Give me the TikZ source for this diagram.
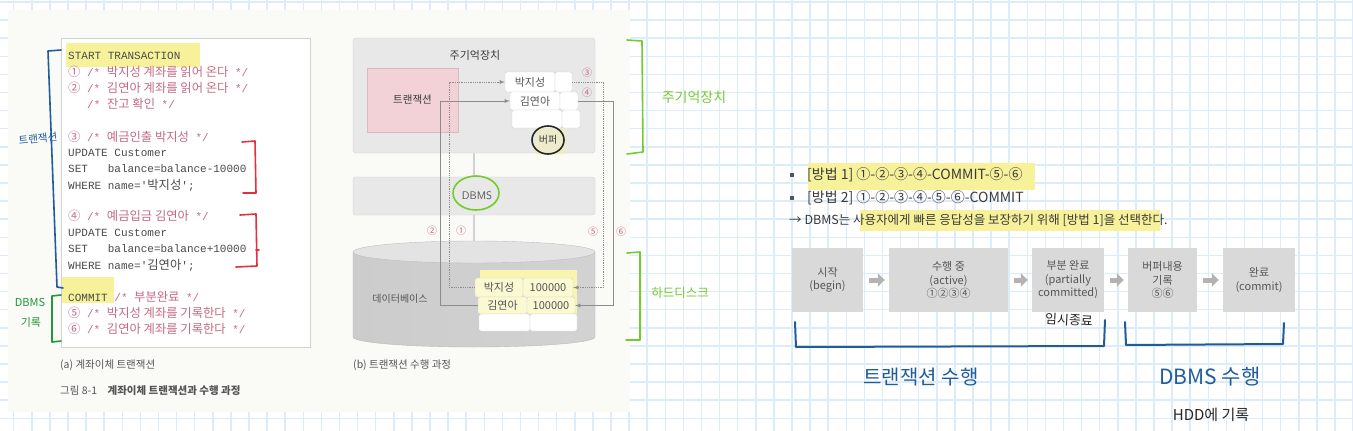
\documentclass[tikz,border=0pt]{standalone}
\usepackage{fontspec}
\setmonofont{Liberation Mono}
\newfontfamily\kr{Noto Sans CJK KR}
\newfontfamily\krc[Scale=1.12]{Noto Sans CJK KR}
\usetikzlibrary{arrows.meta}

\definecolor{gridblue}{HTML}{DCECFB}
\definecolor{paper}{HTML}{FAFAF7}
\definecolor{codegray}{HTML}{4A4A4A}
\definecolor{cmtpink}{HTML}{C46A84}
\definecolor{hlyellow}{HTML}{F7F29A}
\definecolor{boxgray}{HTML}{D9D9D9}
\definecolor{txtgray}{HTML}{555555}
\definecolor{darktxt}{HTML}{3A3A3A}
\definecolor{arrgray}{HTML}{B3B3B3}
\definecolor{memgray}{HTML}{E8E8E8}
\definecolor{edgegray}{HTML}{D2D2D2}
\definecolor{txpink}{HTML}{F2D2D7}
\definecolor{txedge}{HTML}{DAB9BE}
\definecolor{penblue}{HTML}{1F5C99}
\definecolor{pengreen}{HTML}{23973A}
\definecolor{penlime}{HTML}{72CC2E}
\definecolor{penred}{HTML}{E3303F}
\definecolor{linegray}{HTML}{8C8C8C}

\newcommand{\cmnt}[1]{\textcolor{cmtpink}{#1}}

\begin{document}
\begin{tikzpicture}[
    x=1pt, y=-1pt,
    >=latex,
    every node/.style={inner sep=0pt},
    gridln/.style={draw=gridblue, line width=1.5pt},
    codeln/.style={anchor=west, font=\ttfamily\fontsize{11}{13}\selectfont, text=codegray},
    caption/.style={anchor=west, font=\kr\fontsize{10.5}{12}\selectfont, text=txtgray},
    membox/.style={draw=edgegray, fill=memgray, rounded corners=3pt},
    cell/.style={draw=edgegray, fill=white, rounded corners=1.5pt,
        font=\kr\fontsize{11}{11}\selectfont, text=txtgray},
    flowd/.style={->, draw=linegray, densely dotted, line width=0.8pt},
    flows/.style={->, draw=linegray, line width=0.8pt},
    numlbl/.style={font=\kr\fontsize{10}{10}\selectfont, text=cmtpink},
    hand/.style={line width=1.6pt, line cap=round, line join=round},
    flowbox/.style={fill=boxgray, text=txtgray, align=center,
        font=\kr\fontsize{11}{13.5}\selectfont, minimum height=64pt},
    blockarr/.style={draw=arrgray, line width=5pt,
        -{Triangle[length=7pt,width=13pt]}, shorten <=6pt, shorten >=4pt},
    sqbullet/.style={fill=txtgray, minimum size=4pt}
]

\useasboundingbox (0,0) rectangle (1353,431);

% Karopapier
\foreach \gx in {0,...,74}
    \draw[gridln] ({13.7+18.1*\gx},0) -- ++(0,431);
\foreach \gy in {0,...,23}
    \draw[gridln] (0,{2+18.1*\gy}) -- ++(1353,0);

% Foto der Buchseite
\fill[paper] (8,10) rectangle (630,412);

% (a) Transaktion als Code
\node[draw=edgegray, fill=white, minimum width=249, minimum height=309] (code) at (185.5,192.5) {};
\fill[hlyellow] (66,43) rectangle (200,67);
\fill[hlyellow] (62,277) rectangle (114,303);

\node[codeln] (c1) at (68,56) {START TRANSACTION};
\node[codeln, text=cmtpink] (c2) at (68,72) {{\krc ①} /* {\krc 박지성 계좌를 읽어 온다} */};
\node[codeln, text=cmtpink] (c3) at (68,88) {{\krc ②} /* {\krc 김연아 계좌를 읽어 온다} */};
\node[codeln, text=cmtpink] (c4) at (87,104) {/* {\krc 잔고 확인} */};
\node[codeln, text=cmtpink] (c5) at (68,137) {{\krc ③} /* {\krc 예금인출 박지성} */};
\node[codeln] (c6) at (68,153) {UPDATE Customer};
\node[codeln] (c7) at (68,169) {SET\ \ \ balance=balance-10000};
\node[codeln] (c8) at (68,185) {WHERE name='{\krc 박지성}';};
\node[codeln, text=cmtpink] (c9) at (68,216) {{\krc ④} /* {\krc 예금입금 김연아} */};
\node[codeln] (c10) at (68,233) {UPDATE Customer};
\node[codeln] (c11) at (68,249) {SET\ \ \ balance=balance+10000};
\node[codeln] (c12) at (68,265) {WHERE name='{\krc 김연아}';};
\node[codeln] (c13) at (68,297) {COMMIT \cmnt{/* {\krc 부분완료} */}};
\node[codeln, text=cmtpink] (c14) at (68,313) {{\krc ⑤} /* {\krc 박지성 계좌를 기록한다} */};
\node[codeln, text=cmtpink] (c15) at (68,329) {{\krc ⑥} /* {\krc 김연아 계좌를 기록한다} */};

\node[caption] (capa) at (60,365) {(a) 계좌이체 트랜잭션};
\node[caption] (fig) at (60,391) {그림 8-1\quad\textbf{계좌이체 트랜잭션과 수행 과정}};

% (b) Ablauf im Speicher
\node[membox, minimum width=242, minimum height=115] (mem) at (474,95.5) {};
\node[font=\kr\fontsize{11}{11}\selectfont, text=darktxt] (memlbl) at (475,55) {주기억장치};
\node[draw=txedge, fill=txpink, minimum width=91, minimum height=64,
    font=\kr\fontsize{10.5}{10.5}\selectfont, text=darktxt] (tx) at (412.5,100) {트랜잭션};

% Puffer
\node[cell, minimum width=50, minimum height=20] (b1n) at (530,82) {박지성};
\node[cell, minimum width=17, minimum height=20] (b1v) at (563.5,82) {};
\node[cell, minimum width=50, minimum height=18] (b2n) at (535,101) {김연아};
\node[cell, minimum width=18, minimum height=18] (b2v) at (569,101) {};
\node[cell, minimum width=50, minimum height=18] (b3n) at (537,119) {};
\node[cell, minimum width=18, minimum height=18] (b3v) at (571,119) {};
\fill[hlyellow, opacity=.35] (535,128) rectangle (566,155);
\node[font=\kr\fontsize{10}{10}\selectfont, text=darktxt] (buf) at (548,140) {버퍼};

\node[membox, minimum width=242, minimum height=38,
    font=\sffamily\fontsize{11}{11}\selectfont, text=txtgray] (dbms) at (474,196) {\hspace{6pt}DBMS};

% Datenbank-Zylinder
\coordinate (dbtop) at (474,241);
\draw[edgegray, line width=1.5pt] (mem.south) -- (dbms.north);
\draw[edgegray, line width=1.5pt] (dbms.south) -- (dbtop);
\shade[left color=gray!40, middle color=gray!8, right color=gray!35]
    (353,252) -- (353,337) arc[start angle=180, end angle=0, x radius=121, y radius=10]
    -- (595,252) -- cycle;
\draw[gray!55] (353,252) -- (353,337) arc[start angle=180, end angle=0, x radius=121, y radius=10]
    -- (595,252);
\filldraw[fill=gray!22, draw=gray!50] (474,252) ellipse [x radius=121, y radius=11];
\node[font=\kr\fontsize{10}{10}\selectfont, text=txtgray] (dblbl) at (400,299) {데이터베이스};

\fill[hlyellow!80] (480,270) rectangle (577,322);
\node[cell, fill=hlyellow!45!white, minimum width=48, minimum height=19] (d1n) at (499,287.5) {박지성};
\node[cell, fill=hlyellow!45!white, minimum width=50, minimum height=19] (d1v) at (548,287.5) {100000};
\node[cell, fill=hlyellow!45!white, minimum width=49, minimum height=17] (d2n) at (502.5,305.5) {김연아};
\node[cell, fill=hlyellow!45!white, minimum width=48, minimum height=17] (d2v) at (551,305.5) {100000};
\node[cell, minimum width=51, minimum height=17] (d3n) at (504.5,322.5) {};
\node[cell, minimum width=47, minimum height=17] (d3v) at (553.5,322.5) {};

% Lesen und Schreiben
\draw[flowd] (d1n.west) -- ++(-25,0) |- (b1n.west);
\draw[flows] (d2n.west) -- ++(-37.5,0) |- (b2n.west);
\draw[flowd] (b1v.east) -- ++(31,0) |- (d1v.east);
\draw[flows] (b2v.east) -- ++(35,0) |- (d2v.east);

\node[numlbl] (n3) at (587,73) {③};
\node[numlbl] (n4) at (587,93) {④};
\node[numlbl] (n2) at (432,231) {②};
\node[numlbl] (n1) at (461,231) {①};
\node[numlbl] (n5) at (593,232) {⑤};
\node[numlbl] (n6) at (621,232) {⑥};

\node[caption] (capb) at (353,365) {(b) 트랜잭션 수행 과정};

% Notizen am Rand (links)
\draw[hand, penblue] (61,50) -- (48,51) -- (57,287) -- (63,288);
\node[font=\kr\fontsize{10.5}{10.5}\selectfont, text=penblue, rotate=6] (hTx) at (38,139) {트랜잭션};
\draw[hand, pengreen] (61,295) -- (52,296) -- (52,342) -- (61,341);
\node[font=\kr\fontsize{11}{11}\selectfont, text=pengreen] (hDbms) at (30,302) {DBMS};
\node[font=\kr\fontsize{11}{11}\selectfont, text=pengreen] (hRec) at (31,322) {기록};
\draw[hand, penred] (242,142) -- (255,141) -- (256,193) -- (243,193);
\draw[hand, penred] (240,215) -- (256,214) -- (257,266) -- (236,267);
\draw[hand, penred] (256,250) -- (259,250);

% Notizen am Rand (Mitte)
\draw[hand, black!85] (548,140) ellipse [x radius=16, y radius=14];
\draw[hand, penlime] (476,193) ellipse [x radius=23, y radius=17];
\draw[hand, penlime] (627,40) -- (642,41) -- (643,152) -- (627,154);
\node[font=\kr\fontsize{14}{14}\selectfont, text=penlime] (hMem) at (694,97) {주기억장치};
\draw[hand, penlime] (627,253) -- (640,252) -- (640,340) -- (626,340);
\node[font=\kr\fontsize{12.5}{12.5}\selectfont, text=penlime] (hDisk) at (680,293) {하드디스크};

% Methoden
\fill[hlyellow] (808,163) rectangle (1035,190);
\fill[hlyellow] (860,210) rectangle (1160,231);
\node[sqbullet] (bul1) at (792,175) {};
\node[sqbullet] (bul2) at (792,198) {};
\node[anchor=west, font=\kr\fontsize{14}{14}\selectfont, text=darktxt] (m1) at (807,175) {[방법 1] ①-②-③-④-COMMIT-⑤-⑥};
\node[anchor=west, font=\kr\fontsize{14}{14}\selectfont, text=darktxt] (m2) at (807,198) {[방법 2] ①-②-③-④-⑤-⑥-COMMIT};
\node[anchor=west, font=\kr\fontsize{12.5}{12.5}\selectfont, text=darktxt] (m3) at (789,220) {→ DBMS는 사용자에게 빠른 응답성을 보장하기 위해 [방법 1]을 선택한다.};

% Zustaende
\node[flowbox, minimum width=71] (s1) at (827.5,280) {시작\\(begin)};
\node[flowbox, minimum width=119] (s2) at (948.5,280) {수행 중\\(active)\\①②③④};
\node[flowbox, minimum width=72] (s3) at (1068,280) {부분 완료\\(partially\\committed)};
\node[flowbox, minimum width=69] (s4) at (1162.5,280) {버퍼내용\\기록\\⑤⑥};
\node[flowbox, minimum width=72] (s5) at (1259,280) {완료\\(commit)};

\draw[blockarr] (s1) -- (s2);
\draw[blockarr] (s2) -- (s3);
\draw[blockarr] (s3) -- (s4);
\draw[blockarr] (s4) -- (s5);

% Notizen am Rand (rechts)
\node[font=\kr\fontsize{13}{13}\selectfont, text=black!85, rotate=-3] (hTmp) at (1069,320) {임시종료};
\draw[hand, penblue, line width=2pt] (795,322) -- (796,347) -- (1104,346) -- (1105,320);
\draw[hand, penblue, line width=2pt] (1125,322) -- (1126,345) -- (1283,344) -- (1284,323);
\node[font=\kr\fontsize{20}{20}\selectfont, text=penblue] (hRun) at (921,377) {트랜잭션 수행};
\node[font=\kr\fontsize{21}{21}\selectfont, text=penblue] (hDb) at (1210,377) {DBMS 수행};
\node[font=\kr\fontsize{15}{15}\selectfont, text=black!85] (hHdd) at (1211,415) {HDD에 기록};

\end{tikzpicture}
\end{document}
